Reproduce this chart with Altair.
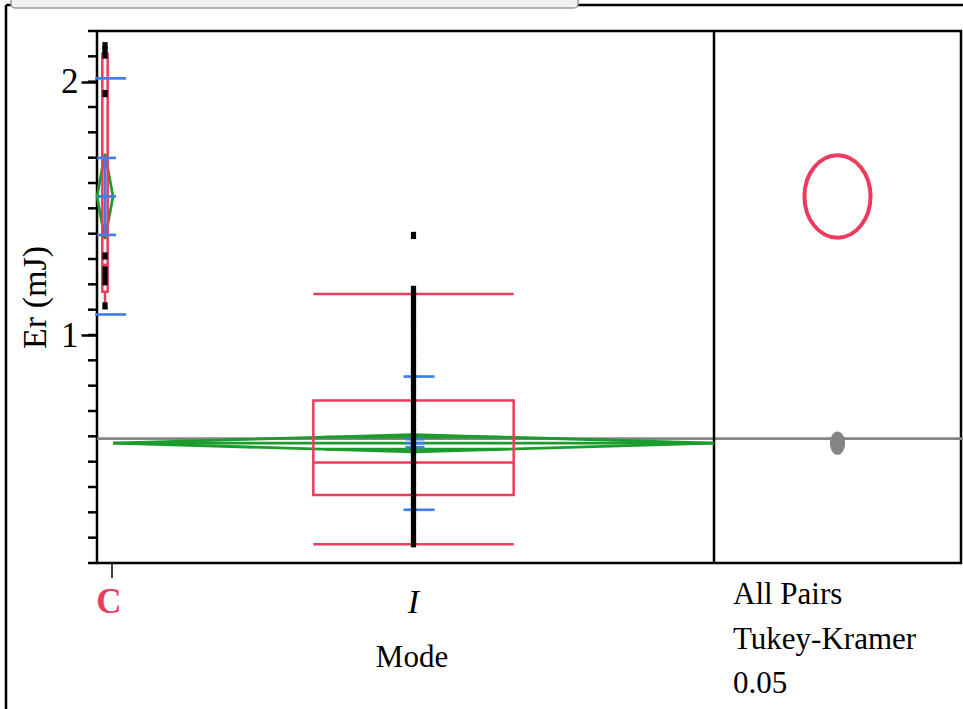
import altair as alt
import numpy as np
import pandas as pd

# ---- data -------------------------------------------------------------
groups = ["C", "I"]
group_n = [9, 338]                      # x widths are proportional to n

c_obs = [2.142, 2.123, 2.105, 1.953, 1.312, 1.257, 1.233, 1.210, 1.115]
i_obs = [1.393, 1.180, 1.161, 1.142, 1.121, 1.103, 1.082, 1.064, 1.043, 1.025,
         1.004, 0.986, 0.965, 0.947, 0.926, 0.908, 0.887, 0.869, 0.848, 0.830,
         0.811, 0.790, 0.772, 0.751, 0.733, 0.712, 0.694, 0.673, 0.655, 0.634,
         0.616, 0.597, 0.576, 0.558, 0.537, 0.519, 0.498, 0.480, 0.459, 0.441,
         0.420, 0.402, 0.381, 0.363, 0.342, 0.324, 0.303, 0.285, 0.264, 0.246,
         0.225, 0.207, 0.190, 0.176]

means = [1.547, 0.573]
std_dev = [0.466, 0.263]
std_err = [0.152, 0.016]
ci95 = [0.168, 0.034]
q_low = [1.107, 0.174]
q1 = [1.171, 0.368]
median = [1.277, 0.497]
q3 = [2.109, 0.741]
q_high = [2.133, 1.162]
grand_mean = 0.591
circle_radius = [0.163, 0.046]

y_ticks_major = [1, 2]
y_ticks_minor = [0.1, 0.2, 0.3, 0.4, 0.5, 0.6, 0.7, 0.8, 0.9, 1.0, 1.1,
                 1.2, 1.3, 1.4, 1.5, 1.6, 1.7, 1.8, 1.9, 2.0, 2.1, 2.2]
test_lines = ["All Pairs", "Tukey-Kramer", "0.05"]

# ---- styling -------------------------------------------------------------
FONT = "Liberation Serif"
RED = "#ee3a5c"
GREEN = "#1c9c2c"
BLUE = "#3f80e8"
GRAY = "#858585"
LW = 2.5
POINT_SHAPE = "M-0.72,-1H0.72V1H-0.72Z"   # slightly tall square marker

Y_MIN, Y_MAX = 0.1, 2.2
W_MAIN, W_PANEL, H = 617, 247, 532
W = W_MAIN + W_PANEL
px_per_unit = H / (Y_MAX - Y_MIN)
BOX_FRAC = 1 / 3

# ---- derived tables ----------------------------------------------------
n = np.array(group_n, dtype=float)
left = np.concatenate([[0], np.cumsum(n)[:-1]])
right = left + n
center = left + n / 2
N = float(n.sum())

stats = pd.DataFrame({
    "group": groups, "left": left, "right": right, "center": center,
    "mean": means, "sd": std_dev, "se": std_err, "ci": ci95,
    "lo": q_low, "q1": q1, "med": median, "q3": q3, "hi": q_high,
})
stats["box_l"] = stats["center"] - n * BOX_FRAC / 2
stats["box_r"] = stats["center"] + n * BOX_FRAC / 2
stats["sd_lo"] = stats["mean"] - stats["sd"]
stats["sd_hi"] = stats["mean"] + stats["sd"]
stats["se_lo"] = stats["mean"] - stats["se"]
stats["se_hi"] = stats["mean"] + stats["se"]

# means diamonds (outline) and overlap marks
dia_rows = []
for _, r in stats.iterrows():
    pts = [(r.left, r["mean"]), (r.center, r["mean"] + r.ci), (r.right, r["mean"]),
           (r.center, r["mean"] - r.ci), (r.left, r["mean"])]
    for k, (xx, yy) in enumerate(pts):
        dia_rows.append({"group": r.group, "k": k, "x": xx, "y": yy})
diamonds = pd.DataFrame(dia_rows)

ov_rows = []
for _, r in stats.iterrows():
    h = r.ci / np.sqrt(2)
    half = (r.right - r.left) / 2 * (1 - 1 / np.sqrt(2))
    for s in (-1, 1):
        ov_rows.append({"group": r.group, "y": r["mean"] + s * h,
                        "x": r.center - half, "x2": r.center + half})
overlap = pd.DataFrame(ov_rows)

obs = pd.DataFrame({
    "group": ["C"] * len(c_obs) + ["I"] * len(i_obs),
    "v": c_obs + i_obs,
})
obs["x"] = obs["group"].map(dict(zip(groups, center)))

circles = pd.DataFrame({"group": groups, "mean": means, "r": circle_radius})
circles["x"] = 0.5
circles["sym"] = (2 * circles["r"] * px_per_unit) ** 2

ticks_minor = pd.DataFrame({"v": y_ticks_minor})
gm = pd.DataFrame({"v": [grand_mean]})
labels = pd.DataFrame({"group": groups, "x": center})
test_df = pd.DataFrame({"t": test_lines, "row": [0, 1, 2]})

# ---- scales / encodings ------------------------------------------------
xs = alt.Scale(domain=[0, N], range=[0, W_MAIN], nice=False, zero=False)
xp = alt.Scale(domain=[0, 1], range=[W_MAIN, W], nice=False, zero=False)
ys = alt.Scale(domain=[Y_MIN, Y_MAX], nice=False, zero=False)


def X(f):
    return alt.X(f, type="quantitative", scale=xs, axis=None)


def X2(f):
    return alt.X2(f)


def Y(f):
    return alt.Y(f, type="quantitative", scale=ys, axis=None)


yaxis = alt.Axis(values=y_ticks_major, format="d", tickSize=16, tickWidth=LW,
                 tickColor="black", domain=False, grid=False,
                 labelFont=FONT, labelFontSize=35, labelColor="black",
                 labelPadding=3, title="Er (mJ)", titleFont=FONT,
                 titleFontSize=34, titleFontWeight="normal", titleColor="black",
                 titleAngle=270, titleX=-52, titleY=266,
                 titleBaseline="alphabetic", titleAlign="center")

layers = []

# outer frame and header tab
frame_df = pd.DataFrame({"d": [0]})
layers.append(alt.Chart(frame_df).mark_rule(color="black", strokeWidth=LW).encode(
    x=alt.value(-91), y=alt.value(-26), y2=alt.value(H + 150)))
layers.append(alt.Chart(frame_df).mark_rule(color="black", strokeWidth=LW).encode(
    x=alt.value(-91), x2=alt.value(W + 4), y=alt.value(-26)))
layers.append(alt.Chart(frame_df).mark_rect(
    fill="#f1f1f1", stroke="#9d9d9d", strokeWidth=1.5, cornerRadius=4).encode(
    x=alt.value(-86), x2=alt.value(481), y=alt.value(-40), y2=alt.value(-23)))

# grand mean line (carries the y axis)
layers.append(alt.Chart(gm).mark_rule(color=GRAY, strokeWidth=2.8).encode(
    y=alt.Y("v:Q", scale=ys, axis=yaxis), x=alt.value(0), x2=alt.value(W + 2)))

# minor ticks
layers.append(alt.Chart(ticks_minor).mark_rule(color="black", strokeWidth=LW).encode(
    y=Y("v"), x=alt.value(-9), x2=alt.value(0)))

# panel divider
layers.append(alt.Chart(frame_df).mark_rule(color="black", strokeWidth=LW).encode(
    x=alt.value(W_MAIN), y=alt.value(0), y2=alt.value(H)))

# means diamonds
layers.append(alt.Chart(diamonds).mark_line(color=GREEN, strokeWidth=2.8).encode(
    x=X("x"), y=Y("y"), detail="group:N", order="k:Q"))
layers.append(alt.Chart(stats).mark_rule(color=GREEN, strokeWidth=2.8).encode(
    x=X("left"), x2=X2("right"), y=Y("mean")))
layers.append(alt.Chart(overlap).mark_rule(color=GREEN, strokeWidth=2.8).encode(
    x=X("x"), x2=X2("x2"), y=Y("y")))

# quantile box plots
layers.append(alt.Chart(stats).mark_rect(
    fillOpacity=0, stroke=RED, strokeWidth=LW).encode(
    x=X("box_l"), x2=X2("box_r"), y=Y("q1"), y2=alt.Y2("q3")))
for f in ["med", "lo", "hi"]:
    layers.append(alt.Chart(stats).mark_rule(color=RED, strokeWidth=LW).encode(
        x=X("box_l"), x2=X2("box_r"), y=Y(f)))
layers.append(alt.Chart(stats).mark_rule(color=RED, strokeWidth=LW).encode(
    x=X("center"), y=Y("q3"), y2=alt.Y2("hi")))
layers.append(alt.Chart(stats).mark_rule(color=RED, strokeWidth=LW).encode(
    x=X("center"), y=Y("lo"), y2=alt.Y2("q1")))

# std dev lines and mean error bars
for f in ["sd_lo", "sd_hi"]:
    layers.append(alt.Chart(stats).mark_rule(
        color=BLUE, strokeWidth=2.7, xOffset=-10, x2Offset=21).encode(
        x=X("center"), x2=X2("center"), y=Y(f)))
for f in ["se_lo", "se_hi", "mean"]:
    layers.append(alt.Chart(stats).mark_rule(
        color=BLUE, strokeWidth=2.7, xOffset=-8, x2Offset=11).encode(
        x=X("center"), x2=X2("center"), y=Y(f)))
layers.append(alt.Chart(stats).mark_rule(color=BLUE, strokeWidth=2.7).encode(
    x=X("center"), y=Y("se_lo"), y2=alt.Y2("se_hi")))

# observations
layers.append(alt.Chart(obs).mark_point(
    shape=POINT_SHAPE, size=52, filled=True, color="black", opacity=1).encode(
    x=X("x"), y=Y("v")))

# category axis: tick, labels, title
layers.append(alt.Chart(labels).transform_filter("datum.group == 'C'").mark_rule(
    color="black", strokeWidth=1.5, xOffset=7).encode(
    x=X("x"), y=alt.value(H), y2=alt.value(H + 15)))
layers.append(alt.Chart(labels).transform_filter("datum.group == 'C'").mark_text(
    font=FONT, fontSize=35, fontWeight="bold", color=RED, baseline="alphabetic",
    align="center", dx=4).encode(x=X("x"), y=alt.value(H + 50), text="group:N"))
layers.append(alt.Chart(labels).transform_filter("datum.group == 'I'").mark_text(
    font=FONT, fontSize=34, fontStyle="italic", color="black", baseline="alphabetic",
    align="center").encode(x=X("x"), y=alt.value(H + 50), text="group:N"))
layers.append(alt.Chart(frame_df).mark_text(
    font=FONT, fontSize=31, color="black", baseline="alphabetic", align="center",
    text="Mode").encode(x=alt.value(315), y=alt.value(H + 104)))

# comparison circles
layers.append(alt.Chart(circles).transform_filter("datum.group == 'C'").mark_point(
    shape="M0,-1A0.8,1 0 1,1 0,1A0.8,1 0 1,1 0,-1Z", filled=False, color=RED,
    strokeWidth=4, opacity=1).encode(
    x=alt.X("x:Q", scale=xp, axis=None), y=Y("mean"),
    size=alt.Size("sym:Q", scale=None, legend=None)))
layers.append(alt.Chart(circles).transform_filter("datum.group == 'I'").mark_point(
    shape="M0,-1A0.65,1 0 1,1 0,1A0.65,1 0 1,1 0,-1Z", filled=True, color=GRAY,
    opacity=1).encode(
    x=alt.X("x:Q", scale=xp, axis=None), y=Y("mean"),
    size=alt.Size("sym:Q", scale=None, legend=None)))

# comparison test description
layers.append(alt.Chart(test_df).mark_text(
    font=FONT, fontSize=31, color="black", baseline="alphabetic", align="left").encode(
    x=alt.value(W_MAIN + 19),
    y=alt.Y("row:Q", scale=alt.Scale(domain=[0, 2], range=[H + 41, H + 130]), axis=None),
    text="t:N"))

chart = alt.layer(*layers).resolve_scale(x="independent", y="independent").resolve_axis(
    x="independent", y="independent"
).properties(
    width=W, height=H,
    autosize=alt.AutoSizeParams(type="none"),
    padding={"left": 97, "top": 31, "right": 2, "bottom": 146},
    background="white",
).configure_view(stroke="black", strokeWidth=LW)

chart.save("out.html", embed_options={"renderer": "svg", "actions": False})
